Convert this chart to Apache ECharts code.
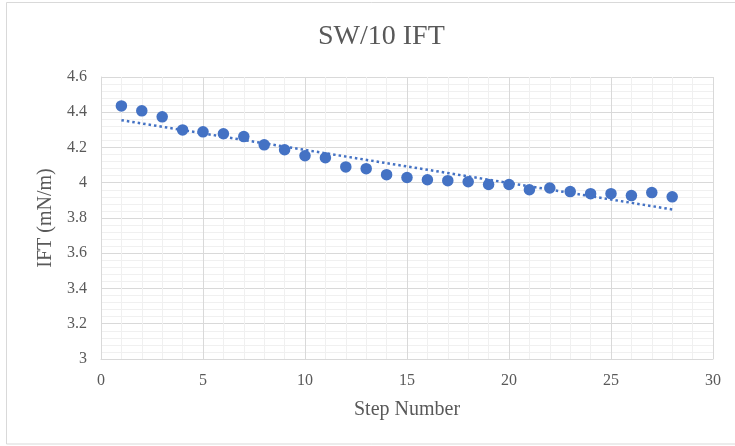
<!DOCTYPE html>
<html>
<head>
<meta charset="utf-8">
<script src="https://cdn.jsdelivr.net/npm/echarts@6/dist/echarts.min.js"></script>
<style>
html,body{margin:0;padding:0;background:#fff;}
#chart{width:735px;height:446px;}
</style>
</head>
<body>
<div id="chart"></div>
<script>
// Data
var titleText = "SW/10 IFT";
var xAxisName = "Step Number";
var yAxisName = "IFT (mN/m)";
var steps = [1,2,3,4,5,6,7,8,9,10,11,12,13,14,15,16,17,18,19,20,21,22,23,24,25,26,27,28];
var ift = [4.436,4.408,4.374,4.300,4.289,4.278,4.262,4.215,4.187,4.153,4.142,4.090,4.080,4.046,4.030,4.017,4.012,4.006,3.990,3.990,3.960,3.970,3.950,3.938,3.938,3.927,3.944,3.920];
var xTicks = {min:0, max:30, interval:5};
var yTicks = {min:3, max:4.6, interval:0.2};

// Linear trendline (least squares) from the data
var n = steps.length, sx=0, sy=0, sxy=0, sxx=0;
for (var i=0;i<n;i++){sx+=steps[i];sy+=ift[i];sxy+=steps[i]*ift[i];sxx+=steps[i]*steps[i];}
var slope = (n*sxy - sx*sy)/(n*sxx - sx*sx);
var intercept = (sy - slope*sx)/n;
var trend = [[steps[0], intercept+slope*steps[0]],[steps[n-1], intercept+slope*steps[n-1]]];

var points = steps.map(function(s,i){return [s, ift[i]];});

var font = "'Liberation Serif','Times New Roman',serif";
var textColor = "#595959";
var chart = echarts.init(document.getElementById('chart'), null, {renderer:'canvas'});
chart.setOption({
  animation:false,
  backgroundColor:'#ffffff',
  title:{
    text:titleText, left:313, top:18,
    textStyle:{fontFamily:font, fontSize:28, fontWeight:'normal', color:textColor}
  },
  graphic:[{
    type:'rect', silent:true, z:-10,
    shape:{x:6.5, y:2.5, width:740, height:441.5},
    style:{fill:null, stroke:'#d9d9d9', lineWidth:1}
  }],
  grid:{left:101, right:22, top:77, bottom:87, containLabel:false},
  xAxis:{
    type:'value', min:xTicks.min, max:xTicks.max, interval:xTicks.interval,
    name:xAxisName, nameLocation:'middle', nameGap:51,
    nameTextStyle:{fontFamily:font, fontSize:20, color:textColor, verticalAlign:'middle'},
    axisLine:{show:true, lineStyle:{color:'#d9d9d9', width:1}},
    axisTick:{show:false},
    axisLabel:{fontFamily:font, fontSize:16, color:textColor, margin:14},
    splitLine:{show:true, lineStyle:{color:'#d9d9d9', width:1}},
    minorTick:{show:false, splitNumber:5},
    minorSplitLine:{show:true, lineStyle:{color:'#f0f0f0', width:1}}
  },
  yAxis:{
    type:'value', min:yTicks.min, max:yTicks.max, interval:yTicks.interval,
    name:yAxisName, nameLocation:'middle', nameGap:52, nameRotate:90,
    nameTextStyle:{fontFamily:font, fontSize:20, color:textColor, verticalAlign:'middle'},
    axisLine:{show:true, lineStyle:{color:'#d9d9d9', width:1}},
    axisTick:{show:false},
    axisLabel:{fontFamily:font, fontSize:16, color:textColor, margin:14},
    splitLine:{show:true, lineStyle:{color:'#d9d9d9', width:1}},
    minorTick:{show:false, splitNumber:5},
    minorSplitLine:{show:true, lineStyle:{color:'#f0f0f0', width:1}}
  },
  series:[
    {
      type:'line', data:trend, symbol:'none', silent:true, z:1,
      lineStyle:{color:'#4472C4', width:2.5, type:[2.5,3], cap:'butt'}
    },
    {
      type:'scatter', data:points, symbol:'circle', symbolSize:11.5, z:2,
      itemStyle:{color:'#4472C4', opacity:1}
    }
  ]
});
</script>
</body>
</html>
